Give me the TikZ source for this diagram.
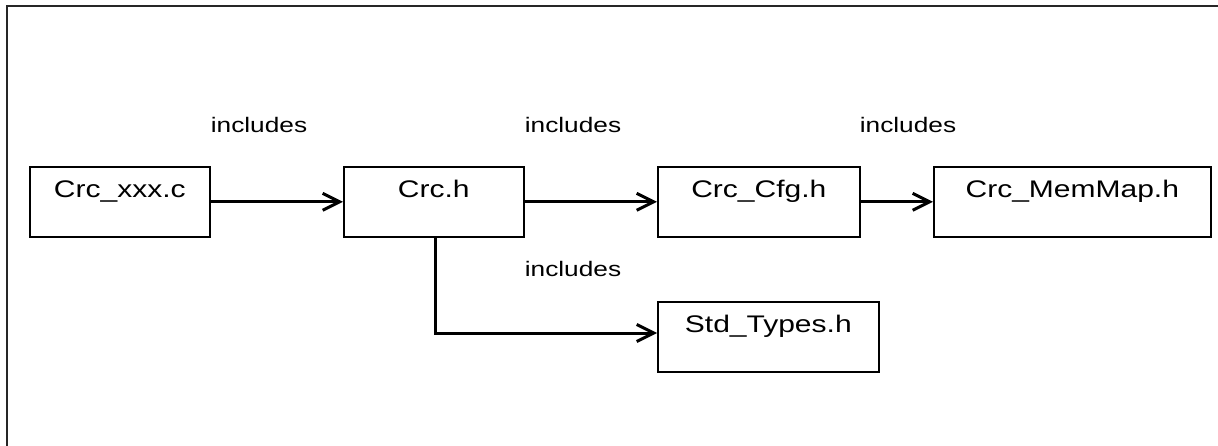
\documentclass[tikz,border=0pt]{standalone}
\usepackage{fontspec}
\setmainfont{Liberation Sans}[FakeStretch=1.25]
\usetikzlibrary{arrows.meta}
\tikzset{
  x=1pt, y=-1pt,
  filebox/.style={draw=black, line width=1.6pt, anchor=north west, inner xsep=0pt, inner ysep=0pt,
    text height=31pt, text depth=39pt, align=center, font=\fontsize{24}{28}\selectfont},
  inclabel/.style={anchor=base, inner sep=0pt, font=\fontsize{21}{25}\selectfont},
  incarrow/.style={line width=3pt, -{Straight Barb[length=17pt,width=17pt,line width=3pt]}},
  frameline/.style={line width=2pt, draw=black!85}
}
\begin{document}
\begin{tikzpicture}
\useasboundingbox (0,0) rectangle (1218,446);
\draw[frameline] (6.5,446) -- (6.5,6.5) -- (1218,6.5);

\node[filebox, text width=180pt] (xxx) at (29,166) {Crc\_xxx.c};
\node[filebox, text width=180pt] (crch) at (343,166) {Crc.h};
\node[filebox, text width=202pt] (cfg) at (657,166) {Crc\_Cfg.h};
\node[filebox, text width=277pt] (memmap) at (933,166) {Crc\_MemMap.h};
\node[filebox, text width=221pt] (std) at (657,301) {Std\_Types.h};

\node[inclabel] (l1) at (259,133) {includes};
\node[inclabel] (l2) at (573,133) {includes};
\node[inclabel] (l3) at (908,133) {includes};
\node[inclabel] (l4) at (573,277) {includes};

\draw[incarrow] (xxx.east) -- (crch.west);
\draw[incarrow] (crch.east) -- (cfg.west);
\draw[incarrow] (cfg.east) -- (memmap.west);
\coordinate (bend) at (435,333);
\draw[incarrow] (crch.south -| bend) -- (bend) -- (std.west |- bend);
\end{tikzpicture}
\end{document}
